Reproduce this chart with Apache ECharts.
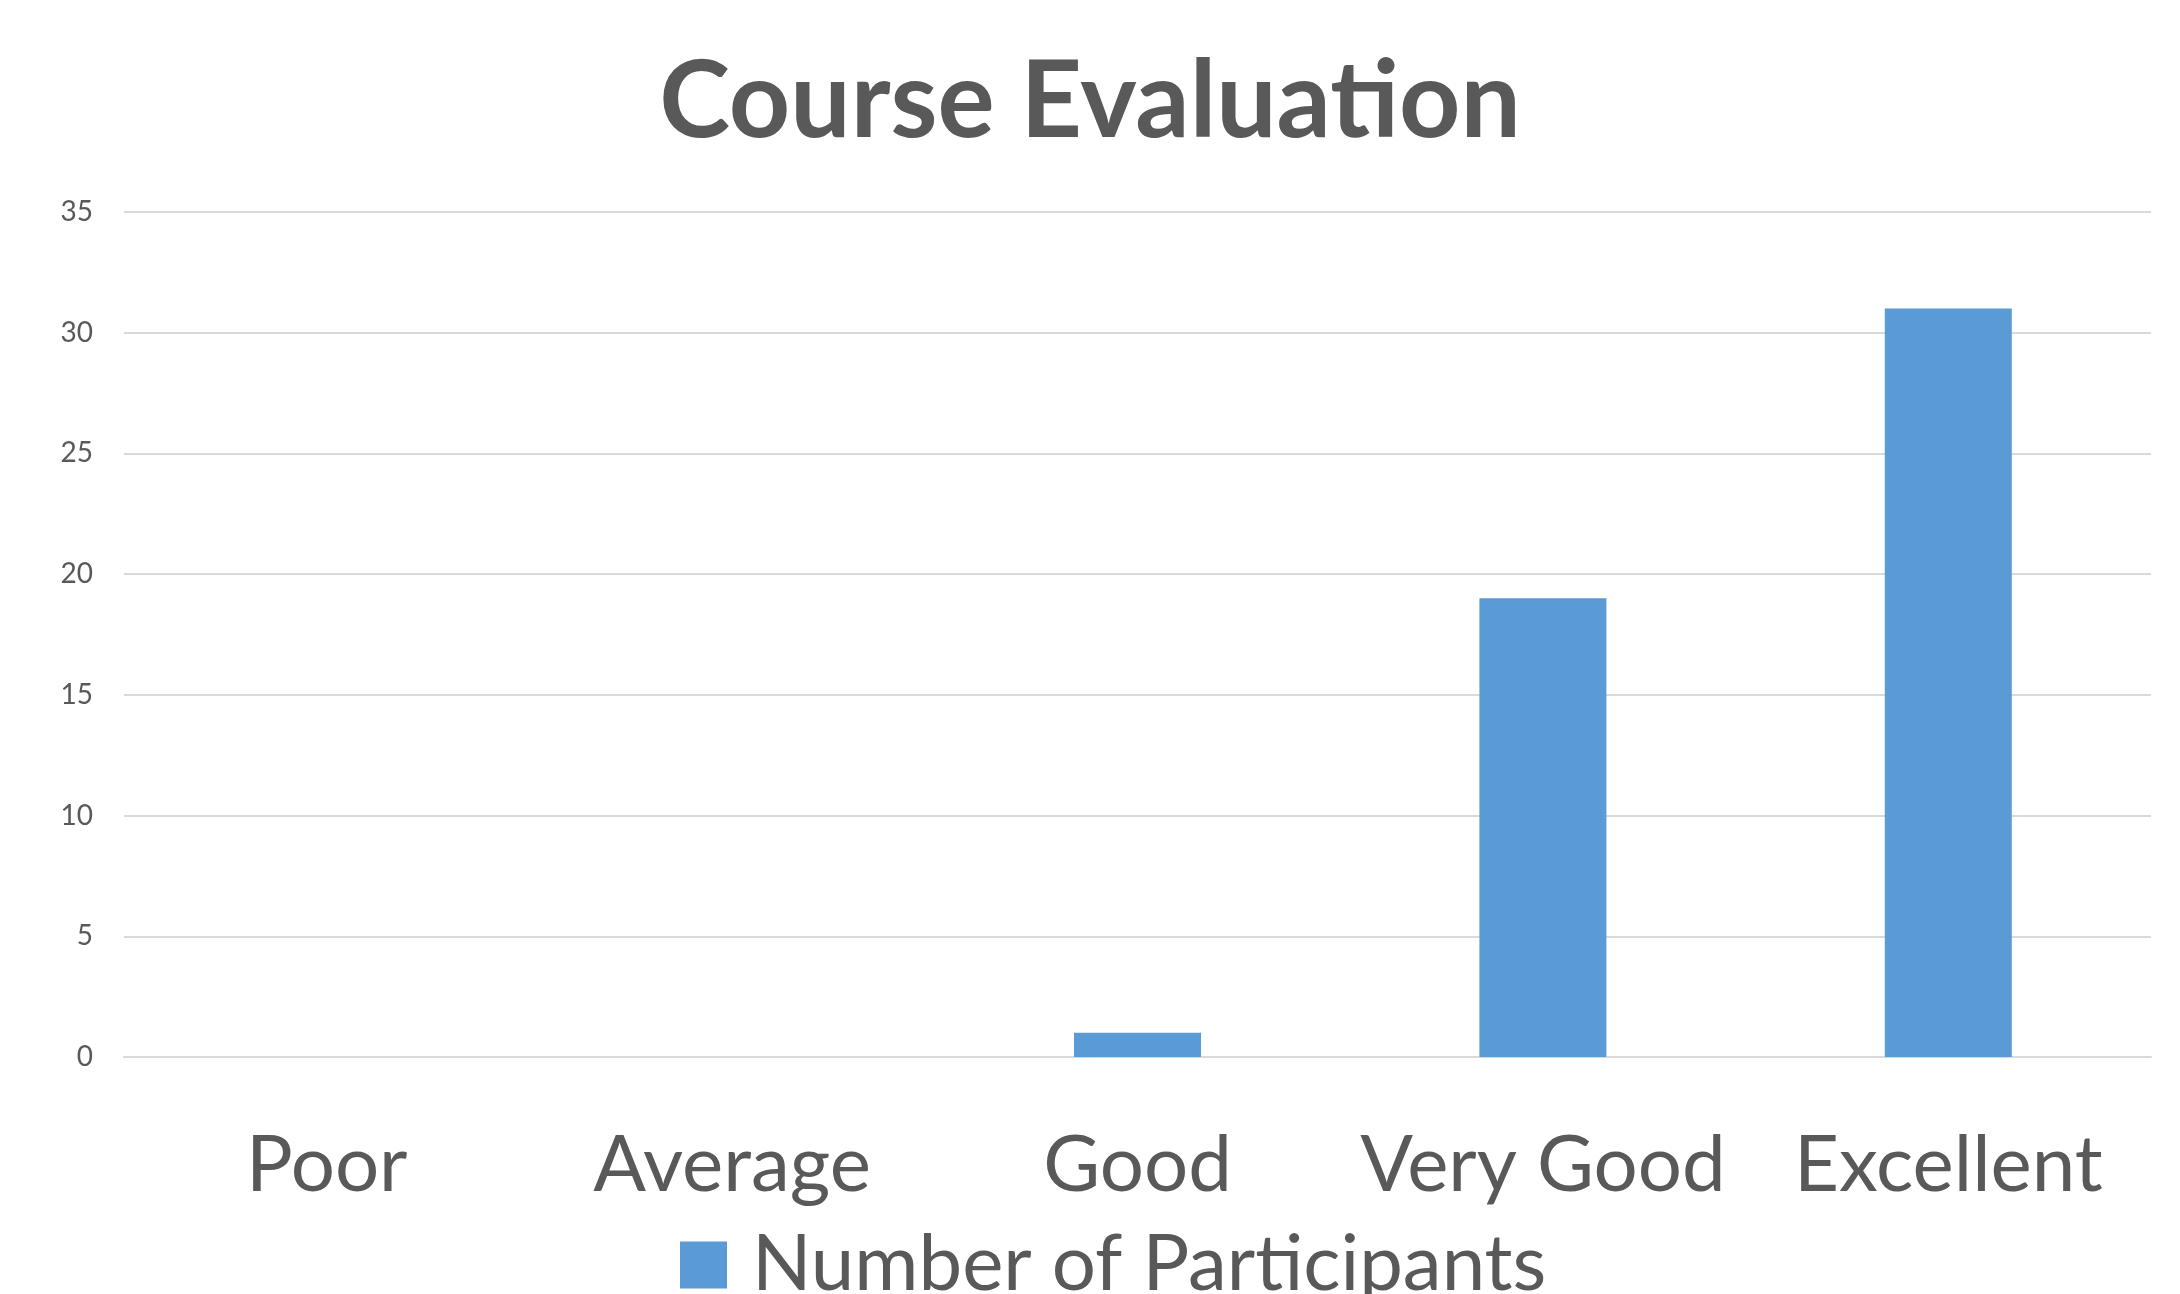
<!DOCTYPE html>
<html>
<head>
<meta charset="utf-8">
<script src="https://cdn.jsdelivr.net/npm/echarts@6/dist/echarts.min.js"></script>
<style>
  html, body { margin: 0; padding: 0; background: #fff; }
  #main { width: 2180px; height: 1294px; }
</style>
</head>
<body>
<div id="main"></div>
<script>
// chart data
var categories = ['Poor', 'Average', 'Good', 'Very Good', 'Excellent'];
var participants = [0, 0, 1, 19, 31];
var seriesName = 'Number of Participants';
var chartTitle = 'Course Evaluation';

var textColor = '#595959';
var fontName = 'Lato';

window.onload = function () {
    var myChart = echarts.init(document.getElementById('main'));
    myChart.setOption({
        animation: false,
        backgroundColor: '#ffffff',
        title: {
            text: chartTitle,
            left: 'center',
            top: 44,
            textStyle: {
                color: textColor,
                fontFamily: fontName,
                fontWeight: 'bold',
                fontSize: 107
            }
        },
        legend: {
            left: 680,
            top: 1226,
            padding: 0,
            itemWidth: 47,
            itemHeight: 47,
            icon: 'rect',
            textStyle: {
                color: textColor,
                fontFamily: fontName,
                fontSize: 78,
                padding: [0, 0, 0, 20]
            },
            data: [seriesName]
        },
        grid: {
            left: 124,
            right: 29,
            top: 212,
            bottom: 237
        },
        xAxis: {
            type: 'category',
            data: categories,
            axisLine: { show: true, lineStyle: { color: '#d9d9d9', width: 2 } },
            axisTick: { show: false },
            axisLabel: {
                interval: 0,
                color: textColor,
                fontFamily: fontName,
                fontSize: 78,
                margin: 70
            }
        },
        yAxis: {
            type: 'value',
            min: 0,
            max: 35,
            interval: 5,
            axisLine: { show: false },
            axisTick: { show: false },
            splitLine: { lineStyle: { color: '#d9d9d9', width: 2 } },
            axisLabel: {
                color: textColor,
                fontFamily: fontName,
                fontSize: 28,
                margin: 31
            }
        },
        series: [{
            name: seriesName,
            type: 'bar',
            data: participants,
            barWidth: 127,
            itemStyle: { color: '#5b9bd5' }
        }]
    });
};
</script>
</body>
</html>
